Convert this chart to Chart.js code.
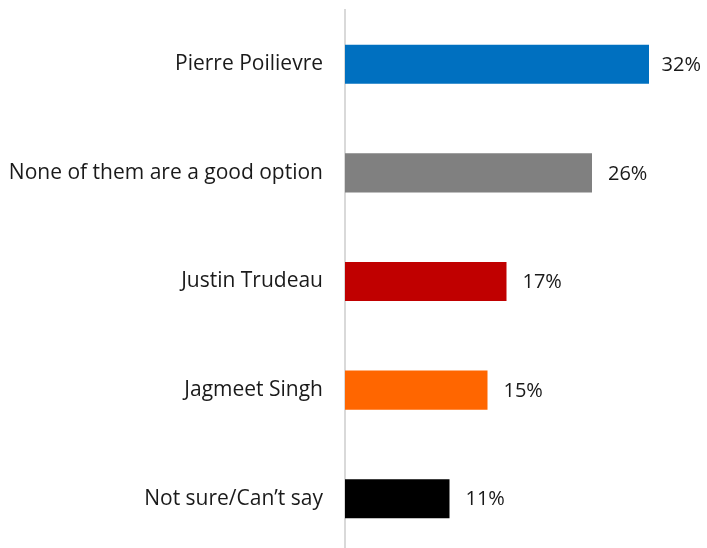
<!DOCTYPE html>
<html>
<head>
<meta charset="utf-8">
<script src="https://cdn.jsdelivr.net/npm/chart.js@4/dist/chart.umd.min.js"></script>
<style>
  html, body { margin: 0; padding: 0; background: #fff; overflow: hidden; }
  #wrap { width: 707px; height: 553px; }
</style>
</head>
<body>
<div id="wrap"><canvas id="leaderChart"></canvas></div>
<script>
const leaders = ['Pierre Poilievre', 'None of them are a good option', 'Justin Trudeau', 'Jagmeet Singh', 'Not sure/Can\u2019t say'];
const shares = [32, 26, 17, 15, 11];
const barColors = ['#0070c0', '#808080', '#c00000', '#ff6600', '#000000'];

const FONT = '"Open Sans", Lato, sans-serif';

// writes "32%" etc. just past the end of each bar, kept inside the canvas
const valueLabels = {
  id: 'valueLabels',
  afterDatasetsDraw(chart) {
    const { ctx } = chart;
    const meta = chart.getDatasetMeta(0);
    ctx.save();
    ctx.font = '20px ' + FONT;
    ctx.fillStyle = '#1a1a1a';
    ctx.textAlign = 'left';
    ctx.textBaseline = 'middle';
    meta.data.forEach((bar, i) => {
      const text = shares[i] + '%';
      const w = ctx.measureText(text).width;
      const x = Math.min(bar.x + 16, chart.width - 6 - w);
      ctx.fillText(text, x, bar.y + 1);
    });
    ctx.restore();
  }
};

const ctx = document.getElementById('leaderChart');
new Chart(ctx, {
  type: 'bar',
  data: {
    labels: leaders,
    datasets: [{
      data: shares,
      backgroundColor: barColors,
      borderWidth: 0,
      categoryPercentage: 1,
      barPercentage: 0.36
    }]
  },
  options: {
    indexAxis: 'y',
    responsive: true,
    maintainAspectRatio: false,
    animation: false,
    layout: { padding: { top: 10, right: 20, bottom: 0, left: 0 } },
    plugins: {
      legend: { display: false },
      tooltip: { enabled: false }
    },
    scales: {
      x: {
        display: false,
        min: 0,
        max: 36
      },
      y: {
        grid: { display: false, drawTicks: false },
        border: { display: true, color: '#d9d9d9', width: 2 },
        ticks: {
          color: '#1a1a1a',
          font: { family: FONT, size: 21 },
          padding: 22
        },
        afterFit(scale) {
          scale.width = 345;
          scale.paddingTop = 0;
          scale.paddingBottom = 0;
        }
      }
    }
  },
  plugins: [valueLabels]
});
</script>
</body>
</html>
